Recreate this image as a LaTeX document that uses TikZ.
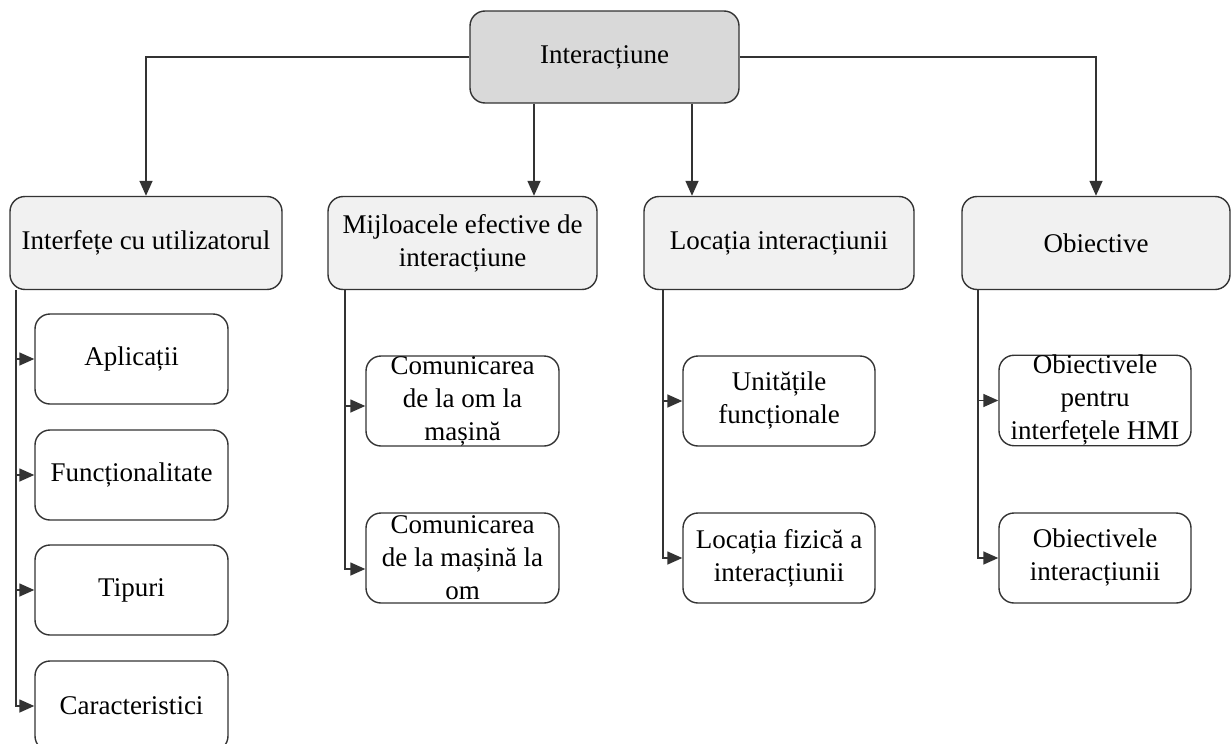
\documentclass[tikz,border=0pt]{standalone}
\usepackage{fontspec}
\setmainfont{Liberation Serif}
\usetikzlibrary{arrows.meta}
\definecolor{edge}{HTML}{333333}
\definecolor{rootfill}{HTML}{D9D9D9}
\definecolor{catfill}{HTML}{F1F1F1}
\tikzset{
  box/.style={draw=edge, line width=1.4pt, rounded corners=15pt, align=center,
    inner sep=0pt, font=\fontsize{27}{33}\selectfont},
  rootbox/.style={box, fill=rootfill, minimum width=269pt, minimum height=92pt},
  catbox/.style={box, fill=catfill, minimum height=93pt},
  leafbox/.style={box, fill=white, minimum width=193pt, minimum height=90pt},
  link/.style={draw=edge, line width=1.5pt, -{Triangle[length=15pt,width=13pt]}}
}
\begin{document}
\begin{tikzpicture}[x=1pt, y=-1pt]
\useasboundingbox (0,0) rectangle (1232,744);

% root and the four categories
\node[rootbox] (root) at (604.5,57) {Interacțiune};
\node[catbox, minimum width=272pt] (ui)  at (146,243)   {Interfețe cu utilizatorul};
\node[catbox, minimum width=269pt] (mij) at (462.5,243) {Mijloacele efective de\\interacțiune};
\node[catbox, minimum width=270pt] (loc) at (779,243)   {Locația interacțiunii};
\node[catbox, minimum width=268pt] (obj) at (1096,243)  {Obiective};

% branch columns
\coordinate (dropA) at (534,0);
\coordinate (dropB) at (692,0);
\coordinate (trunkA) at (16,0);
\coordinate (trunkB) at (345,0);
\coordinate (trunkC) at (663,0);
\coordinate (trunkD) at (978,0);

% leaves under "Interfețe cu utilizatorul"
\node[leafbox] (apl) at (131.5,359) {Aplicații};
\node[leafbox] (fun) at (131.5,475) {Funcționalitate};
\node[leafbox] (tip) at (131.5,590) {Tipuri};
\node[leafbox] (car) at (131.5,706) {Caracteristici};

% leaves under "Mijloacele efective de interacțiune"
\node[leafbox] (om)  at (462.5,401) {Comunicarea\\de la om la\\mașină};
\node[leafbox] (mas) at (462.5,558) {Comunicarea\\de la mașină la\\om};

% leaves under "Locația interacțiunii"
\node[leafbox, minimum width=192pt] (uni) at (779,401) {Unitățile\\funcționale};
\node[leafbox, minimum width=192pt] (fiz) at (779,558) {Locația fizică a\\interacțiunii};

% leaves under "Obiective"
\node[leafbox, minimum width=192pt] (hmi) at (1095,400.5) {Obiectivele\\pentru\\interfețele HMI};
\node[leafbox, minimum width=192pt] (oin) at (1095,558)   {Obiectivele\\interacțiunii};

% root to categories
\draw[link] (root.west) -| (ui.north);
\draw[link] (root.east) -| (obj.north);
\draw[link] (root.south -| dropA) -- (mij.north -| dropA);
\draw[link] (root.south -| dropB) -- (loc.north -| dropB);

% categories to leaves
\draw[link] (ui.south -| trunkA) |- (apl.west);
\draw[link] (ui.south -| trunkA) |- (fun.west);
\draw[link] (ui.south -| trunkA) |- (tip.west);
\draw[link] (ui.south -| trunkA) |- (car.west);

\draw[link] (mij.south -| trunkB) |- ([yshift=-5pt]om.west);
\draw[link] (mij.south -| trunkB) |- ([yshift=-11pt]mas.west);

\draw[link] (loc.south -| trunkC) |- (uni.west);
\draw[link] (loc.south -| trunkC) |- (fiz.west);

\draw[link] (obj.south -| trunkD) |- (hmi.west);
\draw[link] (obj.south -| trunkD) |- (oin.west);
\end{tikzpicture}
\end{document}
